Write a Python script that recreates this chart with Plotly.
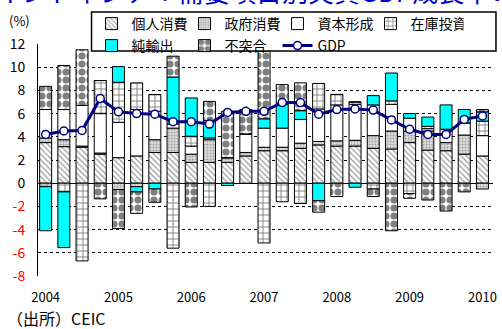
import plotly.graph_objects as go

quarters = ["2004Q1", "2004Q2", "2004Q3", "2004Q4", "2005Q1", "2005Q2", "2005Q3", "2005Q4",
            "2006Q1", "2006Q2", "2006Q3", "2006Q4", "2007Q1", "2007Q2", "2007Q3", "2007Q4",
            "2008Q1", "2008Q2", "2008Q3", "2008Q4", "2009Q1", "2009Q2", "2009Q3", "2009Q4",
            "2010Q1"]
year_ticks = ["2004Q1", "2005Q1", "2006Q1", "2007Q1", "2008Q1", "2009Q1", "2010Q1"]
year_labels = ["2004", "2005", "2006", "2007", "2008", "2009", "2010"]

private_cons = [3.5, 3.15, 3.1, 2.5, 2.2, 2.35, 2.65, 2.65, 1.8, 1.8, 1.8, 2.35, 2.8,
                2.8, 3.0, 3.3, 3.2, 3.2, 3.0, 2.95, 3.5, 2.85, 2.8, 2.5, 2.35]
gov_cons = [0.4, 0.6, 0.1, 0.1, -0.55, -0.3, 1.1, 2.1, 0.7, 1.95, 0.4, 0.3, 0.3,
            0.3, 0.45, 0.3, 0.45, 0.5, 1.1, 1.55, 1.0, 1.65, 0.7, 1.65, -0.5]
capital_form = [2.45, 2.6, 3.5, 3.4, 3.05, 4.0, 2.45, 0.35, 0.7, 0.15, 0.0, 1.6, 1.65,
                1.65, 2.05, 2.8, 3.1, 3.1, 2.65, 2.3, 1.1, 0.2, 1.15, 1.05, 1.75]
inventory = [-0.3, -0.75, -6.7, 2.85, 3.45, 2.3, 1.45, -5.6, 0.85, -2.0, 0.0, 0.0, -5.15,
             -1.6, -1.75, 2.2, 0.9, 0.2, -0.5, 0.3, -0.9, 0.2, 0.0, 0.0, 1.25]
net_exports = [-3.8, -4.8, 0.0, 0.0, 1.35, -0.45, -0.5, 4.05, 3.3, 1.5, -0.2, 0.0, 0.8,
               2.05, 0.75, -1.5, 0.0, -0.35, 0.8, 2.4, 0.4, 0.8, 2.1, 1.15, 0.8]
discrepancy = [2.0, 3.8, 4.8, -1.35, -3.35, -1.85, -1.15, 1.8, -2.05, 1.65, 4.0, 2.1, 5.85,
               1.7, 2.4, -1.0, -1.15, 0.0, -0.65, -4.1, -0.4, -1.45, -2.4, -0.75, 0.2]
gdp = [4.2, 4.5, 4.55, 7.3, 6.15, 6.0, 5.95, 5.3, 5.3, 5.1, 6.1, 6.2, 6.2,
       6.95, 6.95, 5.95, 6.35, 6.4, 6.3, 5.45, 4.65, 4.2, 4.2, 5.5, 5.8]

y_tickvals = [-8, -6, -4, -2, 0, 2, 4, 6, 8, 10, 12]

FONT = "Noto Sans CJK JP"

bar_specs = [
    ("個人消費", private_cons, "legend", dict(color="white", pattern=dict(shape="\\", fgcolor="#333333", bgcolor="white", size=4, solidity=0.3))),
    ("政府消費", gov_cons, "legend", dict(color="#c8c8c8", pattern=dict(shape=".", fgcolor="#666666", bgcolor="#dcdcdc", size=3, solidity=0.35))),
    ("資本形成", capital_form, "legend", dict(color="white")),
    ("在庫投資", inventory, "legend", dict(color="white", pattern=dict(shape="+", fgcolor="#000000", bgcolor="white", size=6, solidity=0.28))),
    ("純輸出", net_exports, "legend2", dict(color="#00ffff")),
    ("不突合", discrepancy, "legend2", dict(color="white", pattern=dict(shape=".", fgcolor="#000000", bgcolor="white", size=8, solidity=0.62))),
]

fig = go.Figure()
for name, vals, lg, mk in bar_specs:
    mk = dict(mk)
    mk["line"] = dict(color="black", width=1)
    fig.add_trace(go.Bar(x=quarters, y=vals, name=name, marker=mk, width=0.66, legend=lg))

fig.add_trace(go.Scatter(
    x=quarters, y=gdp, name="GDP", mode="lines+markers", legend="legend2",
    line=dict(color="#000080", width=3),
    marker=dict(symbol="circle", size=8, color="white", line=dict(color="#000080", width=1.5)),
))

L, R, T, B = 38, 5, 44, 53
W = 502 - L - R
H = 329 - T - B

def px_x(p):
    return (p - L) / W

def px_y(p):
    return (329 - B - p) / H

y_ticktext = [(f'<span style="color:red">{v}</span>' if v < 0 else str(v)) for v in y_tickvals]

legend_common = dict(
    orientation="h", traceorder="normal", xanchor="left", yanchor="top",
    borderwidth=0, bgcolor="rgba(0,0,0,0)",
    font=dict(family=FONT, size=14),
    entrywidth=48, entrywidthmode="pixels", itemwidth=30, tracegroupgap=0,
)

fig.update_layout(
    width=502, height=329,
    margin=dict(l=L, r=R, t=T, b=B, pad=0),
    paper_bgcolor="white", plot_bgcolor="white",
    barmode="relative", bargap=0.34,
    font=dict(family=FONT, size=13, color="black"),
    showlegend=True,
    legend=dict(legend_common, x=px_x(92), y=px_y(8)),
    legend2=dict(legend_common, x=px_x(92), y=px_y(30)),
    shapes=[dict(type="rect", xref="paper", yref="paper", layer="above",
                 x0=px_x(92), x1=px_x(500), y0=px_y(51), y1=px_y(12),
                 line=dict(color="black", width=1.5), fillcolor="white")],
    xaxis=dict(
        range=[-0.42, 24.58], tickmode="array", tickvals=year_ticks, ticktext=year_labels,
        showgrid=False, showline=False, zeroline=False,
        ticks="outside", ticklen=9, tickcolor="rgba(0,0,0,0)",
        tickfont=dict(family=FONT, size=13),
    ),
    yaxis=dict(
        range=[-8, 12], tickmode="array", tickvals=y_tickvals, ticktext=y_ticktext,
        showgrid=True, gridcolor="black", gridwidth=1, griddash="3px,3px",
        zeroline=True, zerolinecolor="black", zerolinewidth=1,
        showline=True, linecolor="black", linewidth=1,
        ticks="outside", ticklen=9, tickcolor="rgba(0,0,0,0)",
        tickfont=dict(family=FONT, size=14),
    ),
    annotations=[
        dict(text="(%)", xref="paper", yref="paper", x=px_x(19), y=px_y(20),
             xanchor="center", yanchor="middle", showarrow=False,
             font=dict(family=FONT, size=13)),
        dict(text="（出所）CEIC", xref="paper", yref="paper", x=px_x(5), y=px_y(318),
             xanchor="left", yanchor="middle", showarrow=False,
             font=dict(family=FONT, size=16)),
        dict(text="インドネシア：需要項目別実質GDP成長率の推移（前年比）", xref="paper", yref="paper",
             x=px_x(-6), y=px_y(11), xanchor="left", yanchor="bottom", showarrow=False,
             font=dict(family=FONT, size=26, color="#0000cc"), ),
    ],
)

fig.write_html("out.html")
